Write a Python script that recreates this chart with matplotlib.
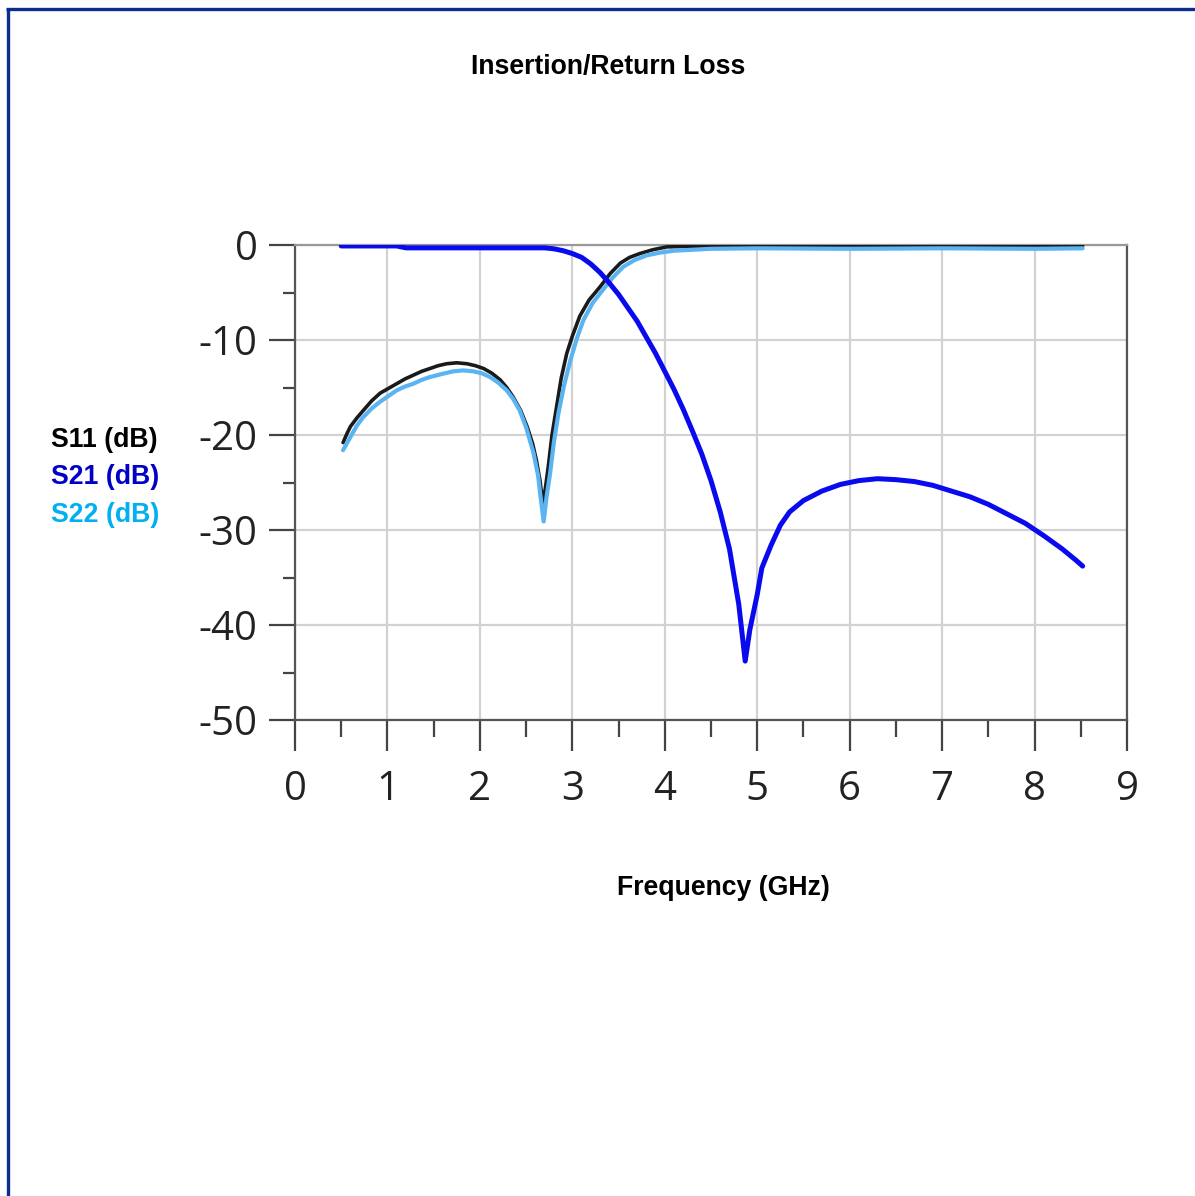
import matplotlib
matplotlib.use("Agg")
import matplotlib.pyplot as plt
from matplotlib.lines import Line2D
from matplotlib.ticker import MultipleLocator, FixedLocator

# ---------------- data ----------------
s11_freq = [0.52, 0.56, 0.6, 0.67, 0.74, 0.83, 0.92, 1.01, 1.1, 1.19, 1.28, 1.37, 1.46, 1.55,
            1.64, 1.75, 1.86, 1.95, 2.04, 2.13, 2.22, 2.29, 2.36, 2.44, 2.51, 2.57, 2.61, 2.65,
            2.68, 2.71, 2.74, 2.78, 2.83, 2.88, 2.94, 3.0, 3.08, 3.18, 3.3, 3.41, 3.52, 3.62,
            3.73, 3.87, 4.02, 4.5, 5.0, 6.0, 7.0, 8.0, 8.52]
s11_db = [-20.8, -19.9, -19.1, -18.2, -17.4, -16.4, -15.6, -15.1, -14.6, -14.1, -13.7, -13.3,
          -13.0, -12.7, -12.5, -12.4, -12.5, -12.7, -13.0, -13.5, -14.2, -15.0, -16.0, -17.4,
          -19.1, -20.9, -22.6, -24.8, -27.2, -25.5, -23.3, -20.0, -17.0, -14.0, -11.4, -9.6,
          -7.5, -5.8, -4.4, -3.0, -1.9, -1.3, -0.9, -0.5, -0.2, -0.1, -0.1, -0.1, -0.1, -0.1,
          -0.1]

s21_freq = [0.5, 1.1, 1.2, 2.7, 2.8, 2.9, 3.0, 3.1, 3.2, 3.3, 3.4, 3.5, 3.6, 3.7, 3.8, 3.9,
            4.0, 4.1, 4.2, 4.3, 4.4, 4.5, 4.6, 4.7, 4.8, 4.87, 4.92, 5.0, 5.05, 5.15, 5.25,
            5.35, 5.5, 5.7, 5.9, 6.1, 6.3, 6.5, 6.7, 6.9, 7.1, 7.3, 7.5, 7.7, 7.9, 8.1, 8.3,
            8.45, 8.52]
s21_db = [-0.1, -0.1, -0.3, -0.3, -0.4, -0.6, -0.9, -1.3, -2.0, -2.9, -4.0, -5.2, -6.6, -8.0,
          -9.7, -11.4, -13.3, -15.2, -17.3, -19.6, -22.0, -24.8, -28.1, -32.0, -37.8, -43.8,
          -40.5, -36.8, -34.0, -31.6, -29.5, -28.1, -26.9, -25.9, -25.2, -24.8, -24.6, -24.7,
          -24.9, -25.3, -25.9, -26.5, -27.3, -28.3, -29.3, -30.6, -32.0, -33.2, -33.8]

s22_freq = [0.52, 0.6, 0.67, 0.74, 0.83, 0.92, 1.01, 1.1, 1.19, 1.28, 1.37, 1.46, 1.58, 1.71,
            1.82, 1.93, 2.02, 2.11, 2.2, 2.29, 2.36, 2.43, 2.5, 2.58, 2.63, 2.66, 2.69, 2.72,
            2.76, 2.8, 2.85, 2.91, 2.98, 3.05, 3.12, 3.22, 3.34, 3.44, 3.55, 3.67, 3.8, 3.95,
            4.1, 4.5, 5.0, 6.0, 7.0, 8.0, 8.52]
s22_db = [-21.6, -20.2, -19.0, -18.1, -17.2, -16.5, -15.9, -15.3, -14.9, -14.6, -14.2, -13.9,
          -13.6, -13.3, -13.2, -13.3, -13.5, -13.9, -14.5, -15.3, -16.2, -17.4, -19.2, -21.9,
          -24.3, -26.8, -29.1, -26.6, -24.0, -20.8, -17.7, -14.8, -12.1, -9.8, -7.9, -6.1,
          -4.6, -3.4, -2.3, -1.6, -1.1, -0.8, -0.6, -0.4, -0.35, -0.4, -0.35, -0.4, -0.35]

x_ticks = [0, 1, 2, 3, 4, 5, 6, 7, 8, 9]
x_ticklabels = ["0", "1", "2", "3", "4", "5", "6", "7", "8", "9"]
y_ticks = [0, -10, -20, -30, -40, -50]
y_ticklabels = ["0", "-10", "-20", "-30", "-40", "-50"]

title = "Insertion/Return Loss"
xlabel = "Frequency (GHz)"
legend_labels = ["S11 (dB)", "S21 (dB)", "S22 (dB)"]
legend_colors = ["#000000", "#0000c8", "#00b0f0"]

# ---------------- figure ----------------
W, H = 1195, 1196
fig = plt.figure(figsize=(W / 100, H / 100), dpi=100)
fig.patch.set_facecolor("white")

ax = fig.add_axes([295 / W, 1 - 720 / H, (1127 - 295) / W, (720 - 245) / H])
ax.set_xlim(0, 9)
ax.set_ylim(-50, 0)

ax.grid(True, which="major", color="#d2d2d2", linewidth=1.6, zorder=0)
ax.set_axisbelow(True)

ax.plot(s11_freq, s11_db, color="#1a1a1a", linewidth=2.6, zorder=3,
        solid_joinstyle="round", solid_capstyle="round")
ax.plot(s22_freq, s22_db, color="#5ab4f2", linewidth=3.0, zorder=4,
        solid_joinstyle="round", solid_capstyle="round")
ax.plot(s21_freq, s21_db, color="#0a0aef", linewidth=3.6, zorder=5,
        solid_joinstyle="round", solid_capstyle="round")

ax.xaxis.set_major_locator(FixedLocator(x_ticks))
ax.set_xticklabels(x_ticklabels)
ax.yaxis.set_major_locator(FixedLocator(y_ticks))
ax.set_yticklabels(y_ticklabels)
ax.xaxis.set_minor_locator(MultipleLocator(0.5))
ax.yaxis.set_minor_locator(MultipleLocator(5))

for lab in ax.get_xticklabels() + ax.get_yticklabels():
    lab.set_fontfamily("Open Sans")
    lab.set_fontsize(29)
    lab.set_color("#222222")

ax.tick_params(axis="x", which="major", direction="out", length=22, width=1.6,
               color="#444444", pad=14)
ax.tick_params(axis="x", which="minor", direction="out", length=12, width=1.6,
               color="#444444")
ax.tick_params(axis="y", which="major", direction="out", length=19, width=1.6,
               color="#444444", pad=8)
ax.tick_params(axis="y", which="minor", direction="out", length=9, width=1.6,
               color="#444444")

for side in ["left", "bottom", "right"]:
    ax.spines[side].set_color("#555555")
    ax.spines[side].set_linewidth(1.6)
ax.spines["top"].set_color("#999999")
ax.spines["top"].set_linewidth(1.6)

# ---------------- texts ----------------
bold = dict(family="Liberation Sans", weight="bold", size=19.2)
fig.text(608 / W, 1 - 67 / H, title, ha="center", va="center", color="black", **bold)
fig.text(723 / W, 1 - 888 / H, xlabel, ha="center", va="center", color="black", **bold)
for i, (lab, col) in enumerate(zip(legend_labels, legend_colors)):
    fig.text(51 / W, 1 - (440 + 37.5 * i) / H, lab, ha="left", va="center",
             color=col, **bold)

# ---------------- border ----------------
border_col = "#0b2d8c"
fig.add_artist(Line2D([7.5 / W, 7.5 / W], [0, 1 - 8.5 / H], transform=fig.transFigure,
                      color=border_col, linewidth=2.4, solid_capstyle="butt"))
fig.add_artist(Line2D([6.3 / W, 1], [1 - 8.5 / H, 1 - 8.5 / H], transform=fig.transFigure,
                      color=border_col, linewidth=2.4, solid_capstyle="butt"))

fig.savefig("out.png", dpi=100, facecolor="white")
